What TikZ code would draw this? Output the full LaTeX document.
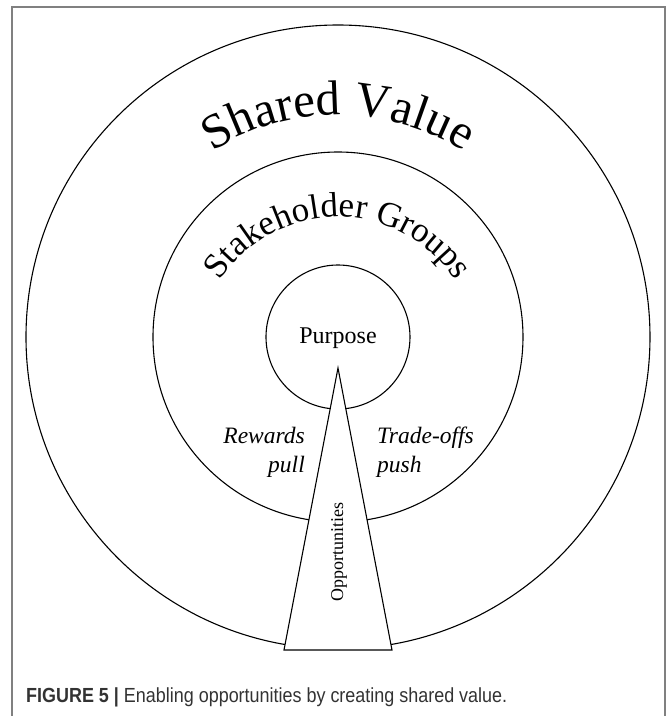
\documentclass[tikz,border=0pt]{standalone}
\usepackage{fontspec}
\setmainfont{Liberation Serif}
\newfontfamily\capfont[FakeStretch=0.88]{Liberation Sans}
\usetikzlibrary{decorations.text}

\newcommand{\valuefont}{\fontsize{49}{49}\selectfont}
\newcommand{\groupfont}{\fontsize{35}{35}\selectfont}

\begin{document}
\begin{tikzpicture}[x=1pt, y=1pt,
    ring/.style={draw, line width=1.1pt},
    arch/.style={decorate, decoration={text along path, text align=center, text={#1}}},
    force/.style={inner sep=0, font=\itshape\fontsize{23.5}{29}\selectfont}]
    \def\rOut{312}
    \def\rMid{185}
    \def\rIn{72}
    \useasboundingbox (-338,-379) rectangle (329,337);

    % Frame
    \draw[gray, line width=1.2pt] (-326,-385) -- (-326,330) -- (327,330) -- (327,-385);

    % Rings
    \draw[ring] (0,0) circle[radius=\rOut];
    \draw[ring] (0,0) circle[radius=\rMid];
    \draw[ring] (0,0) circle[radius=\rIn];
    \node[font=\fontsize{24}{29}\selectfont] (purpose) at (0,-1) {Purpose};

    % Arched titles
    \path[arch={|\valuefont|Shared Value}] (0,-13) ++(150:235) arc[start angle=150, end angle=30, radius=235];
    \path[arch={|\groupfont|Stakeholder Groups}] (0,-21) ++(175:141) arc[start angle=175, end angle=5, radius=141];

    % Opportunities wedge
    \draw[ring, fill=white] (0,-31) -- (-54,-313) -- (54,-313) -- cycle;
    \node[rotate=90, font=\fontsize{18}{22}\selectfont] (opp) at (1,-215) {Opportunities};

    % Forces
    \node[force, anchor=base east, align=right] (rewards) at (-33,-135) {Rewards\\pull};
    \node[force, anchor=base west, align=left] (tradeoffs) at (39,-135) {Trade-offs\\push};

    % Caption
    \node[anchor=base west, inner sep=0, font=\capfont\fontsize{20.4}{24}\selectfont, text=black!80] (caption) at (-312,-365) {\textbf{FIGURE 5 |} Enabling opportunities by creating shared value.};
\end{tikzpicture}
\end{document}
